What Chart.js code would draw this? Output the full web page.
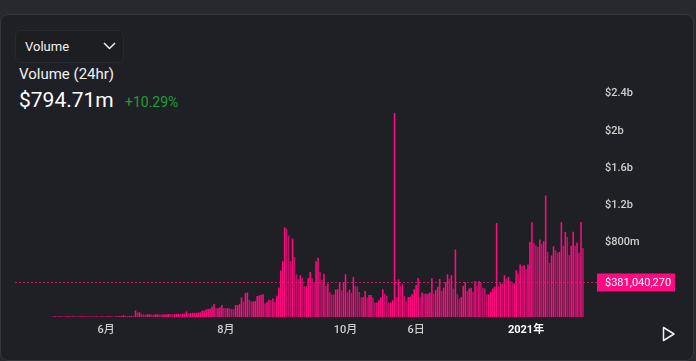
<!DOCTYPE html>
<html>
<head>
<meta charset="utf-8">
<script src="https://cdn.jsdelivr.net/npm/chart.js@4.4.1/dist/chart.umd.min.js"></script>
<style>
  html, body { margin: 0; padding: 0; width: 696px; height: 361px; overflow: hidden; background: #28292e; font-family: Roboto, "Noto Sans", sans-serif; }
  .card { position: absolute; left: 0; top: 14px; width: 692px; height: 345px; background: #1f2025; border: 1px solid #36373c; border-radius: 8px; }
  .dd { position: absolute; left: 15px; top: 30px; width: 107px; height: 31px; border: 1px solid #28292e; border-radius: 6px; background: #1d1e22; }
  .dd span { position: absolute; left: 9px; top: 9px; font-size: 13px; line-height: 13px; color: #f2f2f2; }
  .dd svg { position: absolute; left: 87px; top: 11px; }
  .txt { position: absolute; line-height: 1; white-space: nowrap; }
  #title { left: 19px; top: 67px; font-size: 15px; color: #f0f0f0; }
  #value { left: 19px; top: 90px; font-size: 21px; color: #ffffff; }
  #change { left: 125px; top: 95px; font-size: 14px; color: #1f9e34; }
  #play { position: absolute; left: 662px; top: 326px; }
  #wrap { position: absolute; left: 0; top: 0; width: 696px; height: 361px; }
</style>
</head>
<body>
<div class="card"></div>
<div class="dd"><span>Volume</span>
  <svg width="13" height="8"><polyline points="1,1 6.5,6.5 12,1" fill="none" stroke="#eeeeee" stroke-width="1.5"/></svg>
</div>
<div class="txt" id="title">Volume (24hr)</div>
<div class="txt" id="value">$794.71m</div>
<div class="txt" id="change">+10.29%</div>
<svg id="play" width="14" height="16"><polygon points="1.5,1.5 12,8 1.5,14.5" fill="none" stroke="#f0f0f0" stroke-width="1.5" stroke-linejoin="round"/></svg>
<div id="wrap"><canvas id="chart"></canvas></div>
<script>
// daily volume in $m, one bar per day starting early May 2020
const volumes = [
  6, 7, 6, 8, 7, 6, 5, 7, 8, 6, 7, 6, 5, 6, 7, 8, 6, 7, 6, 5,
  7, 6, 8, 7, 6, 7, 5, 6, 7, 8, 7, 6, 8, 9, 10, 12,
  18, 12, 10, 11, 13, 12, 70, 48, 50, 35,
  28, 25, 27, 30, 26, 24, 28, 30, 27, 25, 26, 28, 30, 32, 29, 27, 31, 33, 35, 34,
  36, 38, 60, 40, 42, 45,
  45, 45, 48, 50, 67, 67, 80, 85, 88, 110, 140, 93, 93, 105, 130, 96, 95, 95, 92, 86,
  85, 128, 128, 138, 210, 167, 256, 263, 185, 167, 167, 172, 225, 230, 240, 245, 145, 160, 185, 180,
  200, 160, 228, 316, 500, 600,
  963, 949, 875, 600, 843, 644, 459, 405, 448, 420, 330, 330, 420, 484, 416, 373, 600, 636, 484, 398,
  466, 334, 359, 267, 242, 240, 295, 298, 370, 288, 370, 459, 267, 295, 260, 430, 335, 325,
  270, 210, 215, 280, 210, 237, 237, 210, 153, 157, 180, 210, 298, 250, 228, 153, 157, 180, 2190, 210,
  405, 335, 352, 228, 175, 215, 220, 245, 298, 345, 420, 210, 263, 250, 250, 250, 263, 416, 250,
  290, 325, 410, 280, 315, 375, 459, 410, 448, 305, 725, 245, 200, 215, 335, 375, 280, 305, 315, 270,
  388, 335, 388, 370, 315, 305, 245, 245, 270, 305, 325, 1010, 330, 363, 360, 448,
  410, 430, 388, 363, 363, 502, 459, 565, 548, 555, 512, 565, 805, 1018, 795, 768, 752, 832, 786, 815,
  1305, 700, 580, 661, 760, 718, 690, 700, 1018, 765, 915, 860, 665, 765, 915, 765, 800, 690, 1021, 740,
];

const tickDays = [27, 88, 149, 185, 241];
const tickLabels = ["6月", "8月", "10月", "6日", "2021年"];
const yTicks = [800, 1200, 1600, 2000, 2400];
const currentVolume = 381040270;

const bright = "#ff0a80";
const dark = "#c4106b";

function fmtMoney(v) {
  return v >= 1000 ? "$" + v / 1000 + "b" : "$" + v + "m";
}

const priceLine = {
  id: "priceLine",
  afterDatasetsDraw(chart) {
    const { ctx, chartArea, scales } = chart;
    const y = Math.round(scales.y.getPixelForValue(currentVolume / 1e6)) + 0.5;
    const boxX = chartArea.right + 5;
    ctx.save();
    ctx.strokeStyle = "rgba(230, 30, 120, 0.75)";
    ctx.lineWidth = 1;
    ctx.setLineDash([2, 2]);
    ctx.beginPath();
    ctx.moveTo(chartArea.left, y);
    ctx.lineTo(boxX, y);
    ctx.stroke();
    ctx.fillStyle = "#ff0a80";
    ctx.fillRect(boxX, y - 9, 78, 18);
    ctx.fillStyle = "#ffffff";
    ctx.font = "11px Roboto, sans-serif";
    ctx.textBaseline = "middle";
    ctx.fillText("$" + currentVolume.toLocaleString("en-US"), boxX + 8, y + 1);
    ctx.restore();
  },
};

new Chart(document.getElementById("chart"), {
  type: "bar",
  data: {
    datasets: [
      {
        data: volumes.map((v, i) => ({ x: i, y: v })),
        backgroundColor: volumes.map((v, i) =>
          i > 0 && v < volumes[i - 1] ? dark : bright,
        ),
        barPercentage: 0.8,
        categoryPercentage: 1,
      },
    ],
  },
  options: {
    responsive: true,
    maintainAspectRatio: false,
    animation: false,
    layout: { padding: { left: 15, top: 75, right: 0, bottom: 0 } },
    plugins: { legend: { display: false }, tooltip: { enabled: false } },
    scales: {
      x: {
        type: "linear",
        offset: false,
        min: -19.4,
        max: 274.6,
        grid: { display: false, drawTicks: false },
        border: { display: false },
        afterBuildTicks: (scale) => {
          scale.ticks = tickDays.map((d) => ({ value: d }));
        },
        afterFit: (scale) => {
          scale.height = 44;
        },
        ticks: {
          autoSkip: false,
          maxRotation: 0,
          padding: 7,
          color: (c) => (c.index === 4 ? "#ffffff" : "#cfcfcf"),
          font: (c) => ({
            family: "Roboto, 'Noto Sans CJK JP', sans-serif",
            size: 11,
            weight: c.index === 4 ? "bold" : "500",
          }),
          callback: (value) => tickLabels[tickDays.indexOf(value)],
        },
      },
      y: {
        position: "right",
        min: 0,
        max: 2600,
        grid: { display: false, drawTicks: false },
        border: { display: false },
        afterBuildTicks: (scale) => {
          scale.ticks = yTicks.map((v) => ({ value: v }));
        },
        afterFit: (scale) => {
          scale.width = 104;
        },
        ticks: {
          padding: 13,
          color: "#cfcfcf",
          font: { family: "Roboto, sans-serif", size: 11, weight: "500" },
          callback: (value) => fmtMoney(value),
        },
      },
    },
  },
  plugins: [priceLine],
});
</script>
</body>
</html>
